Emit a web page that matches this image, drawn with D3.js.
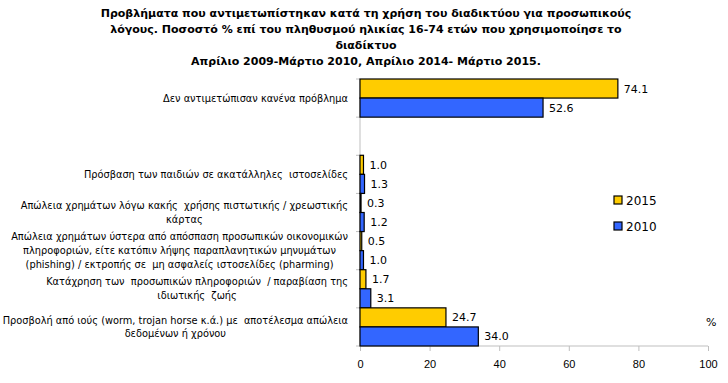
<!DOCTYPE html>
<html>
<head>
<meta charset="utf-8">
<script src="https://cdn.jsdelivr.net/npm/d3@7"></script>
<style>
  body { margin: 0; background: #fff; }
  svg { font-family: "DejaVu Sans", sans-serif; }
  .axis path, .axis line { stroke: #bfbfbf; }
  .axis text { fill: #000; font-size: 11px; }
  .cat { white-space: pre; }
</style>
</head>
<body>
<svg id="chart" width="728" height="383"></svg>
<script>
const titleLines = [
    "Προβλήματα που αντιμετωπίστηκαν κατά τη χρήση του διαδικτύου για προσωπικούς",
    "λόγους. Ποσοστό % επί του πληθυσμού ηλικίας 16-74 ετών που χρησιμοποίησε το",
    "διαδίκτυο",
    "Απρίλιο 2009-Μάρτιο 2010, Απρίλιο 2014- Μάρτιο 2015."
]

const categories = [
    ["Δεν αντιμετώπισαν κανένα πρόβλημα"],
    [],
    ["Πρόσβαση των παιδιών σε ακατάλληλες  ιστοσελίδες"],
    ["Απώλεια χρημάτων λόγω κακής  χρήσης πιστωτικής / χρεωστικής", "κάρτας"],
    ["Απώλεια χρημάτων ύστερα από απόσπαση προσωπικών οικονομικών",
     "πληροφοριών, είτε κατόπιν λήψης παραπλανητικών μηνυμάτων",
     "(phishing) / εκτροπής σε  μη ασφαλείς ιστοσελίδες (pharming)"],
    ["Κατάχρηση των  προσωπικών πληροφοριών  / παραβίαση της", "ιδιωτικής  ζωής"],
    ["Προσβολή από ιούς (worm, trojan horse κ.ά.) με  αποτέλεσμα απώλεια", "δεδομένων ή χρόνου"]
]

const values2015 = [74.1, null, 1.0, 0.3, 0.5, 1.7, 24.7]
const values2010 = [52.6, null, 1.3, 1.2, 1.0, 3.1, 34.0]

const seriesNames = ["2015", "2010"]
const xTicks = [0, 20, 40, 60, 80, 100]

const colors = { "2015": "#ffcc00", "2010": "#3366ff" }

const svg = d3.select('#chart')

/*title*/
svg.append('g')
    .selectAll('text')
    .data(titleLines)
    .enter()
    .append('text')
    .attr('x', 366)
    .attr('y', (d, i) => 17 + i * 16)
    .attr('text-anchor', 'middle')
    .attr('font-size', '11px')
    .attr('font-weight', 'bold')
    .text((d) => d)

const plot = { left: 360, right: 708, top: 79, bottom: 346 }

const xScale = d3.scaleLinear()
    .domain([0, 100])
    .range([plot.left, plot.right])

const yScale = d3.scaleBand()
    .domain(d3.range(categories.length))
    .range([plot.top, plot.bottom])
    .padding(0)

const ySub = d3.scaleBand()
    .domain(seriesNames)
    .range([0, yScale.bandwidth()])
    .padding(0)

/*x axis*/
svg.append('g')
    .attr('class', 'axis')
    .attr('transform', `translate(0, ${plot.bottom})`)
    .call(d3.axisBottom(xScale).tickValues(xTicks).tickSize(5).tickPadding(9).tickSizeOuter(0))
    .call((g) => g.select('.domain').attr('d', `M${plot.left},0H${plot.right}`))

/*y axis line + ticks at band edges*/
const yAxis = svg.append('g').attr('class', 'axis')
yAxis.append('line')
    .attr('x1', plot.left).attr('x2', plot.left)
    .attr('y1', plot.top).attr('y2', plot.bottom)
yAxis.selectAll('.tk')
    .data(d3.range(categories.length + 1))
    .enter()
    .append('line')
    .attr('x1', plot.left - 4).attr('x2', plot.left)
    .attr('y1', (i) => plot.top + i * yScale.step())
    .attr('y2', (i) => plot.top + i * yScale.step())

/*bars*/
const rows = []
categories.forEach((c, i) => {
    if (values2015[i] != null) rows.push({ i: i, s: "2015", v: values2015[i] })
    if (values2010[i] != null) rows.push({ i: i, s: "2010", v: values2010[i] })
})

const barGroups = svg.selectAll('.bar-g')
    .data(rows)
    .enter()
    .append('g')

barGroups
    .append('rect')
    .attr('x', xScale(0))
    .attr('y', (d) => yScale(d.i) + ySub(d.s))
    .attr('width', (d) => xScale(d.v) - xScale(0))
    .attr('height', ySub.bandwidth())
    .attr('fill', (d) => colors[d.s])
    .attr('stroke', '#000')
    .attr('stroke-width', 1.2)

barGroups
    .append('text')
    .attr('x', (d) => xScale(d.v) + 6)
    .attr('y', (d) => yScale(d.i) + ySub(d.s) + ySub.bandwidth() / 2 + 4)
    .attr('font-size', '11px')
    .text((d) => d.v.toFixed(1))

/*category labels*/
const labelRight = 348
const lineH = 13.8
categories.forEach((lines, i) => {
    if (!lines.length) return
    const g = svg.append('g')
    const cy = yScale(i) + yScale.bandwidth() / 2
    const texts = g.selectAll('text')
        .data(lines)
        .enter()
        .append('text')
        .attr('class', 'cat')
        .attr('font-size', '9.8px')
        .attr('text-anchor', 'middle')
        .attr('y', (d, k) => cy + (k - (lines.length - 1) / 2) * lineH + 3.5)
        .text((d) => d)
    let maxW = 0
    texts.each(function () { maxW = Math.max(maxW, this.getComputedTextLength()) })
    texts.attr('x', labelRight - maxW / 2)
})

/*legend*/
const legend = svg.append('g')
    .selectAll('g')
    .data(seriesNames)
    .enter()
    .append('g')
    .attr('transform', (d, i) => `translate(614, ${196 + i * 26})`)

legend.append('rect')
    .attr('width', 8).attr('height', 8)
    .attr('fill', (d) => colors[d])
    .attr('stroke', '#000')
    .attr('stroke-width', 1.2)

legend.append('text')
    .attr('x', 12).attr('y', 9)
    .attr('font-size', '12px')
    .text((d) => d)

/*% sign*/
svg.append('text')
    .attr('x', 706).attr('y', 326)
    .attr('font-size', '11px')
    .text('%')
</script>
</body>
</html>
